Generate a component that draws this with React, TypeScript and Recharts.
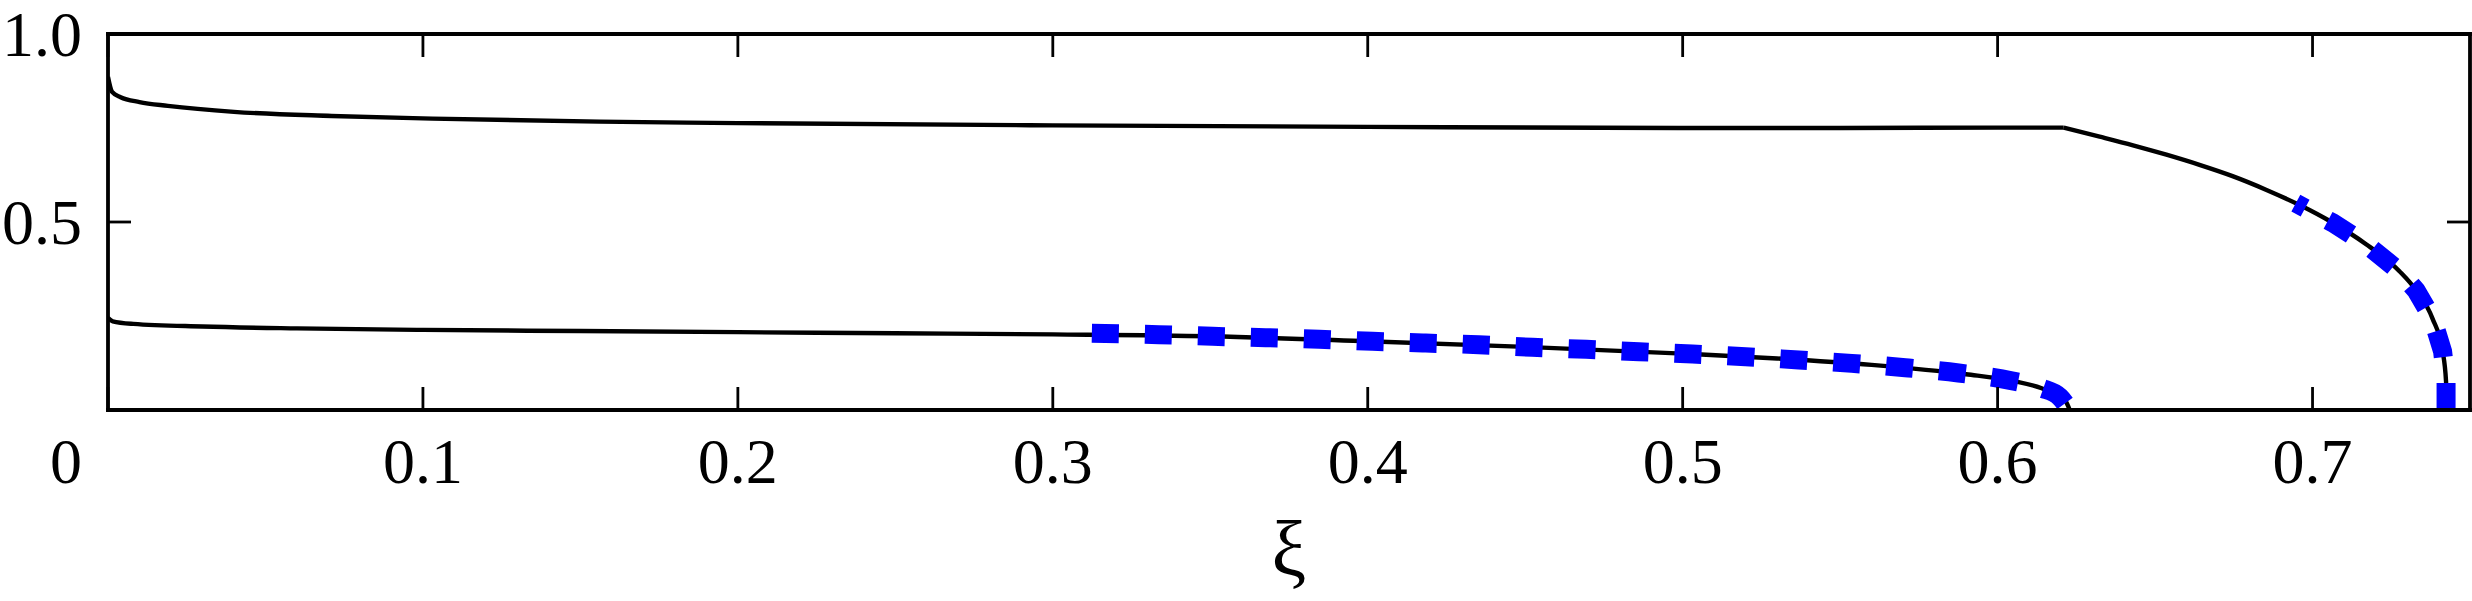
import React from 'react';
import { LineChart, Line, XAxis, YAxis } from 'recharts';

// ---- data ----
const xTicks = [0, 0.1, 0.2, 0.3, 0.4, 0.5, 0.6, 0.7];
const yTicks = [0, 0.5, 1];
const xTickLabels = ['0', '0.1', '0.2', '0.3', '0.4', '0.5', '0.6', '0.7'];
const yTickLabels = ['', '0.5', '1.0'];
const xAxisTitle = 'ξ';

// upper black curve, left of the kink
const upperLeftX = [0, 0.0013, 0.004, 0.01, 0.019, 0.04, 0.071, 0.103, 0.156, 0.2, 0.3, 0.4, 0.5, 0.55, 0.6, 0.621];
const upperLeftY = [0.886, 0.846, 0.832, 0.819, 0.809, 0.793, 0.782, 0.775, 0.767, 0.763, 0.757, 0.753, 0.750, 0.750, 0.751, 0.751];

// upper black curve, right of the kink
const upperRightX = [0.621, 0.6324, 0.643, 0.6536, 0.6641, 0.6746, 0.6852, 0.6959, 0.7064, 0.717, 0.7276, 0.7329, 0.7381, 0.7413, 0.7424, 0.7425];
const upperRightY = [0.751, 0.727, 0.704, 0.679, 0.652, 0.622, 0.586, 0.545, 0.498, 0.441, 0.369, 0.318, 0.243, 0.156, 0.075, 0];

// lower black curve
const lowerX = [0, 0.0015, 0.008, 0.03, 0.06, 0.1, 0.15, 0.2, 0.25, 0.3, 0.35, 0.4, 0.45, 0.5, 0.53, 0.56, 0.59, 0.605, 0.614, 0.619, 0.6215, 0.6229];
const lowerY = [0.245, 0.236, 0.229, 0.222, 0.217, 0.213, 0.21, 0.207, 0.204, 0.201, 0.196, 0.183, 0.168, 0.15, 0.137, 0.12, 0.095, 0.077, 0.058, 0.04, 0.025, 0];

// blue dashed curve on the lower branch (drawn left to right)
const blueLowerX = [0.3124, 0.3337, 0.3507, 0.3676, 0.3846, 0.4015, 0.4184, 0.4353, 0.4523, 0.4694, 0.4862, 0.5031, 0.52, 0.5369, 0.5537, 0.5707, 0.5876, 0.6044, 0.614, 0.6197, 0.6229];
const blueLowerY = [0.204, 0.2003, 0.196, 0.1924, 0.188, 0.1826, 0.178, 0.1737, 0.1667, 0.1613, 0.155, 0.149, 0.1418, 0.133, 0.124, 0.1126, 0.0984, 0.078, 0.058, 0.035, 0];

// blue dashed curve on the upper branch (drawn from the bottom upward)
const blueUpperX = [0.7424, 0.7424, 0.7413, 0.7381, 0.7329, 0.7276, 0.717, 0.7064, 0.6947];
const blueUpperY = [0, 0.075, 0.156, 0.243, 0.318, 0.369, 0.441, 0.498, 0.55];

const toPts = (xs: number[], ys: number[]) => xs.map((x, i) => ({ x, y: ys[i] }));

const FONT = '"Liberation Serif", "Times New Roman", serif';
const FS = 64;

const XTick = (props: any) => {
  const { x, y, payload } = props;
  const idx = xTicks.indexOf(payload.value);
  const label = idx >= 0 ? xTickLabels[idx] : String(payload.value);
  const dx = payload.value === 0 ? -42 : 0;
  return (
    <text x={x + dx} y={y + 96} textAnchor="middle" fontFamily={FONT} fontSize={FS} fill="#000">
      {label}
    </text>
  );
};

const YTick = (props: any) => {
  const { x, y, payload } = props;
  const idx = yTicks.indexOf(payload.value);
  const label = idx >= 0 ? yTickLabels[idx] : '';
  if (!label) return <g />;
  return (
    <text x={x} y={y + 21.6} textAnchor="end" fontFamily={FONT} fontSize={FS} fill="#000">
      {label}
    </text>
  );
};

const NoTick = () => <g />;

const XTitle = (props: any) => {
  const vb = props.viewBox ?? { x: 108, y: 410, width: 2362, height: 191 };
  return (
    <text x={vb.x + vb.width / 2} y={vb.y + 165} textAnchor="middle" fontFamily={FONT} fontSize={78} fill="#000">
      {xAxisTitle}
    </text>
  );
};

const axisLineStyle = { stroke: '#000', strokeWidth: 3.8, strokeLinecap: 'square' as const };
const tickLineStyle = { stroke: '#000', strokeWidth: 2.8 };
const BLACK_W = 4.4;

export default function App() {
  return (
    <div style={{ position: 'absolute', left: 0, top: 0, background: '#fff' }}>
      <LineChart width={2472} height={601} margin={{ top: 0, right: 0, bottom: 0, left: 0 }}>
        <XAxis
          xAxisId={0}
          dataKey="x"
          type="number"
          domain={[0, 0.75]}
          ticks={xTicks}
          allowDataOverflow
          height={191}
          tickSize={-23}
          tickMargin={0}
          axisLine={axisLineStyle}
          tickLine={tickLineStyle}
          tick={<XTick />}
          interval={0}
          label={<XTitle />}
        />
        <XAxis
          xAxisId="top"
          orientation="top"
          dataKey="x"
          type="number"
          domain={[0, 0.75]}
          ticks={xTicks}
          allowDataOverflow
          height={34}
          tickSize={-23}
          axisLine={axisLineStyle}
          tickLine={tickLineStyle}
          tick={<NoTick />}
          interval={0}
        />
        <YAxis
          yAxisId={0}
          type="number"
          domain={[0, 1]}
          ticks={yTicks}
          allowDataOverflow
          width={108}
          tickSize={-23}
          tickMargin={49}
          axisLine={axisLineStyle}
          tickLine={tickLineStyle}
          tick={<YTick />}
          interval={0}
        />
        <YAxis
          yAxisId="right"
          orientation="right"
          type="number"
          domain={[0, 1]}
          ticks={yTicks}
          allowDataOverflow
          width={2}
          tickSize={-23}
          axisLine={axisLineStyle}
          tickLine={tickLineStyle}
          tick={<NoTick />}
          interval={0}
        />
        <Line data={toPts(upperLeftX, upperLeftY)} dataKey="y" type="monotone" stroke="#000" strokeWidth={BLACK_W} dot={false} activeDot={false} isAnimationActive={false} />
        <Line data={toPts(upperRightX, upperRightY)} dataKey="y" type="monotone" stroke="#000" strokeWidth={BLACK_W} dot={false} activeDot={false} isAnimationActive={false} />
        <Line data={toPts(lowerX, lowerY)} dataKey="y" type="monotone" stroke="#000" strokeWidth={BLACK_W} dot={false} activeDot={false} isAnimationActive={false} />
        <Line data={toPts(blueLowerX, blueLowerY)} dataKey="y" type="monotone" stroke="#0000ff" strokeWidth={19} strokeDasharray="27 26" dot={false} activeDot={false} isAnimationActive={false} />
        <Line data={toPts(blueUpperX, blueUpperY)} dataKey="y" type="linear" stroke="#0000ff" strokeWidth={19} strokeDasharray="27 26" dot={false} activeDot={false} isAnimationActive={false} />
      </LineChart>
    </div>
  );
}
